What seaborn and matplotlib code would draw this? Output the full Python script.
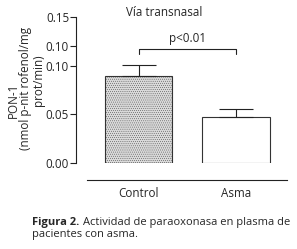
import numpy as np
import pandas as pd
import matplotlib
matplotlib.use("Agg")
import matplotlib.pyplot as plt
import seaborn as sns

# Data
categories = ["Control", "Asma"]
values = [0.0898, 0.0469]
errors = [0.0112, 0.0082]
yticks = [0.00, 0.05, 0.10, 0.15]
ytick_labels = ["0.00", "0.05", "0.10", "0.15"]
extra_label_value = 0.1204
extra_label = "0.10"
title = "Vía transnasal"
sig_text = "p<0.01"
ylabel_lines = ["PON-1", "(nmol p-nit rofenol/mg", "prot/min)"]
caption_bold = "Figura 2."
caption_line1 = "Actividad de paraoxonasa en plasma de"
caption_line2 = "pacientes con asma."

sns.set_style("white")
plt.rcParams["font.family"] = ["Open Sans", "DejaVu Sans"]
plt.rcParams["hatch.color"] = "#8a8a8a"
plt.rcParams["hatch.linewidth"] = 0.25

W, H = 297, 249
fig = plt.figure(figsize=(W / 100, H / 100), dpi=100)

def fx(px):
    return px / W

def fy(py):
    return 1 - py / H

FS = 8.4
ax_left, ax_right, ax_top, ax_bottom = 76, 287, 17, 163
ax = fig.add_axes([fx(ax_left), fy(ax_bottom), (ax_right - ax_left) / W, (ax_bottom - ax_top) / H])

df = pd.DataFrame({"grupo": categories, "pon": values})
sns.barplot(data=df, x="grupo", y="pon", ax=ax, width=0.69,
            palette=["#dadada", "white"], hue="grupo", legend=False,
            edgecolor="#333333", linewidth=0.8)
ax.patches[0].set_hatch("........")

ax.errorbar(x=[0, 1], y=values, yerr=[[0, 0], errors], fmt="none",
            ecolor="#222222", elinewidth=0.8, capsize=12, capthick=0.8)

ax.set_ylim(0, 0.15)
cat_px = 97.5
ax.set_xlim(-(138.5 - ax_left) / cat_px, 1 + (ax_right - 236) / cat_px)

ax.set_yticks(yticks + [extra_label_value])
ax.set_yticklabels(ytick_labels + [extra_label])
ax.yaxis.get_major_ticks()[-1].tick1line.set_visible(False)
ax.tick_params(axis="y", left=True, length=4, width=0.8, pad=1, labelsize=FS, color="#222222")
ax.tick_params(axis="x", bottom=False, length=0, pad=5, labelsize=FS)
ax.set_xlabel("")
ax.set_ylabel("")

for s in ["top", "right"]:
    ax.spines[s].set_visible(False)
ax.spines["left"].set_color("#222222")
ax.spines["left"].set_linewidth(0.8)
ax.spines["bottom"].set_color("#222222")
ax.spines["bottom"].set_linewidth(0.8)
ax.spines["bottom"].set_position(("outward", 12.5))
ax.spines["bottom"].set_bounds(ax.get_xlim()[0] + 11 / cat_px, ax.get_xlim()[1])

# significance bracket
ax.plot([0, 0, 1, 1], [0.1122, 0.1173, 0.1173, 0.1122], color="#222222", lw=0.8, clip_on=False)
ax.text(0.5, 0.121, sig_text, ha="center", va="bottom", fontsize=FS)

fig.text(fx(164), fy(13), title, ha="center", va="center", fontsize=FS)

# y label lines
fig.text(fx(13), fy(100), ylabel_lines[0], rotation=90, ha="center", va="center", fontsize=FS)
fig.text(fx(26), fy(88), ylabel_lines[1], rotation=90, ha="center", va="center", fontsize=FS)
fig.text(fx(38), fy(80), ylabel_lines[2], rotation=90, ha="center", va="center", fontsize=FS)

# caption
t1 = fig.text(fx(32), fy(222), caption_bold, ha="left", va="center", fontsize=8.0, fontweight="bold")
fig.canvas.draw()
bb = t1.get_window_extent()
fig.text((bb.x1 + 4) / W, fy(222), caption_line1, ha="left", va="center", fontsize=8.0)
fig.text(fx(32), fy(234), caption_line2, ha="left", va="center", fontsize=8.0)

fig.savefig("out.png", dpi=100)
